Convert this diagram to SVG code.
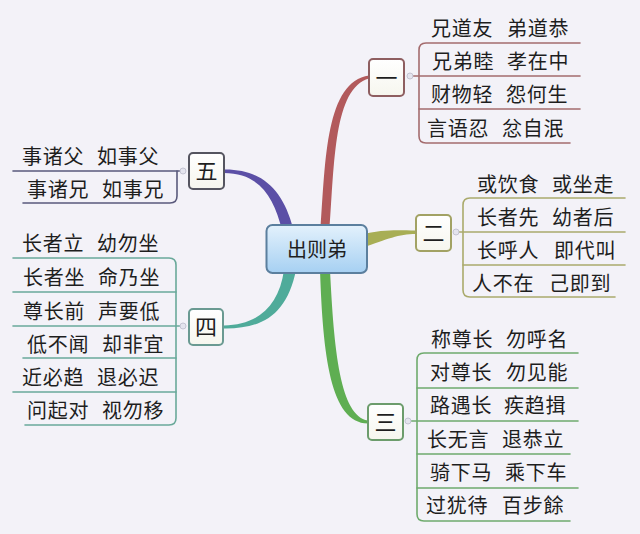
<svg xmlns="http://www.w3.org/2000/svg" width="640" height="534" viewBox="0 0 640 534">
<defs>
<linearGradient id="cg" x1="0" y1="0" x2="0" y2="1">
<stop offset="0" stop-color="#e3f1fc"/>
<stop offset="1" stop-color="#a6d0f2"/>
</linearGradient>
<linearGradient id="bg" x1="0" y1="0" x2="0" y2="1">
<stop offset="0" stop-color="#ffffff"/>
<stop offset="1" stop-color="#f6f6ee"/>
</linearGradient>
<style>
text{font-family:"Noto Sans CJK SC","Noto Sans CJK JP",sans-serif;fill:#1e1e1e}
.leaf text{font-size:20px;letter-spacing:0.8px}
.box rect{fill:url(#bg);stroke-width:2}
.box text{font-size:22px;text-anchor:middle}
.ln{fill:none;stroke-width:1.6;stroke-linecap:round}
.dot{fill:#e4e4ee;stroke:#c4c4d2;stroke-width:1}
.c1{stroke:#a46c6e}.c2{stroke:#aaaa6c}.c3{stroke:#6fab6d}.c4{stroke:#6aa99a}.c5{stroke:#5a5a7c}
</style>
</defs>
<rect width="640" height="534" fill="#f3f2f8"/>
<g id="connectors">
<path d="M320.5 230 C325.5 158 326 82 369 75.5 L369 78.5 C334 88 334.5 162 329.5 230 Z" fill="#b25a5c"/>
<path d="M224 169.5 C262 169 283 190 293 228 L282 230 C274 198 260 173 224 173 Z" fill="#5b4fa6"/>
<path d="M360 235 C384 229 396 230.5 416 230.5 L416 234 C398 234 388 239 362 248 Z" fill="#a8ae55"/>
<path d="M320 270 C323 355 330 423 368 423.5 L368 420.5 C340 416 334 350 330 270 Z" fill="#5fae52"/>
<path d="M284 270 C279 306 258 325 224 325.5 L224 328.5 C262 329 287 315 296 270 Z" fill="#4fab9a"/>
<g class="ln c1">
<path d="M580 43 H426 Q419 43 419 50 V136 Q419 143 426 143 H570"/>
<path d="M410 76 H580"/>
<path d="M419 109 H580"/>
</g>
<g class="ln c2">
<path d="M625 198 H470 Q463 198 463 205 V290 Q463 297 470 297 H615"/>
<path d="M456 232 H625"/>
<path d="M463 265 H625"/>
</g>
<g class="ln c3">
<path d="M578 353 H424 Q417 353 417 360 V514 Q417 521 424 521 H570"/>
<path d="M408 421 H578"/>
<path d="M417 388 H578"/>
<path d="M417 454 H570"/>
<path d="M417 488 H578"/>
</g>
<g class="ln c4">
<path d="M13 258 H169 Q176 258 176 265 V418 Q176 425 169 425 H25"/>
<path d="M183 326 H13"/>
<path d="M176 292 H13"/>
<path d="M176 358 H23"/>
<path d="M176 392 H13"/>
</g>
<g class="ln c5">
<path d="M183 171 H13"/>
<path d="M177 171 V196 Q177 203 170 203 H23"/>
</g>
<circle class="dot" cx="410" cy="76" r="3"/>
<circle class="dot" cx="456" cy="232" r="3"/>
<circle class="dot" cx="408" cy="421" r="3"/>
<circle class="dot" cx="183" cy="326" r="3"/>
<circle class="dot" cx="183" cy="171" r="3"/>
</g>
<g id="center">
<rect x="266.5" y="225" width="100.5" height="48" rx="6" fill="url(#cg)" stroke="#5b7f9e" stroke-width="2"/>
<text x="317" y="256.5" font-size="20" text-anchor="middle" fill="#333">出则弟</text>
</g>
<g id="n1" class="box"><rect x="369" y="59" width="35" height="37" rx="4" stroke="#8e5e60"/><text x="386.5" y="85.5">一</text></g>
<g id="n2" class="box"><rect x="416" y="215" width="35" height="36" rx="4" stroke="#a2a264"/><text x="433.5" y="241">二</text></g>
<g id="n3" class="box"><rect x="368" y="404" width="35" height="36" rx="4" stroke="#6c9c6c"/><text x="385.5" y="430">三</text></g>
<g id="n4" class="box"><rect x="189" y="309" width="34" height="36" rx="4" stroke="#6a9a92"/><text x="206" y="335">四</text></g>
<g id="n5" class="box"><rect x="189" y="153" width="35" height="36" rx="4" stroke="#555560"/><text x="206.5" y="179">五</text></g>
<g id="leaves1" class="leaf">
<g id="l1a"><text y="35.5"><tspan x="431">兄道友</tspan> <tspan x="507">弟道恭</tspan></text></g>
<g id="l1b"><text y="69"><tspan x="432">兄弟睦</tspan> <tspan x="507">孝在中</tspan></text></g>
<g id="l1c"><text y="102"><tspan x="431">财物轻</tspan> <tspan x="506">怨何生</tspan></text></g>
<g id="l1d"><text y="135.5"><tspan x="427">言语忍</tspan> <tspan x="502">忿自泯</tspan></text></g>
</g>
<g id="leaves2" class="leaf">
<g id="l2a"><text y="191.5"><tspan x="477">或饮食</tspan> <tspan x="552">或坐走</tspan></text></g>
<g id="l2b"><text y="224.5"><tspan x="477">长者先</tspan> <tspan x="552">幼者后</tspan></text></g>
<g id="l2c"><text y="257.5"><tspan x="477">长呼人</tspan> <tspan x="554">即代叫</tspan></text></g>
<g id="l2d"><text y="290.5"><tspan x="472">人不在</tspan> <tspan x="549">己即到</tspan></text></g>
</g>
<g id="leaves3" class="leaf">
<g id="l3a"><text y="346.5"><tspan x="431">称尊长</tspan> <tspan x="506">勿呼名</tspan></text></g>
<g id="l3b"><text y="380"><tspan x="430">对尊长</tspan> <tspan x="506">勿见能</tspan></text></g>
<g id="l3c"><text y="413"><tspan x="430">路遇长</tspan> <tspan x="504">疾趋揖</tspan></text></g>
<g id="l3d"><text y="446.5"><tspan x="427">长无言</tspan> <tspan x="502">退恭立</tspan></text></g>
<g id="l3e"><text y="480"><tspan x="430">骑下马</tspan> <tspan x="505">乘下车</tspan></text></g>
<g id="l3f"><text y="513"><tspan x="426">过犹待</tspan> <tspan x="502">百步餘</tspan></text></g>
</g>
<g id="leaves4" class="leaf">
<g id="l4a"><text y="251"><tspan x="22">长者立</tspan> <tspan x="97">幼勿坐</tspan></text></g>
<g id="l4b"><text y="284.5"><tspan x="23">长者坐</tspan> <tspan x="98">命乃坐</tspan></text></g>
<g id="l4c"><text y="318.5"><tspan x="23">尊长前</tspan> <tspan x="98">声要低</tspan></text></g>
<g id="l4d"><text y="351.5"><tspan x="27">低不闻</tspan> <tspan x="102">却非宜</tspan></text></g>
<g id="l4e"><text y="384.5"><tspan x="22">近必趋</tspan> <tspan x="97">退必迟</tspan></text></g>
<g id="l4f"><text y="417.5"><tspan x="27">问起对</tspan> <tspan x="102">视勿移</tspan></text></g>
</g>
<g id="leaves5" class="leaf">
<g id="l5a"><text y="163.5"><tspan x="22">事诸父</tspan> <tspan x="97">如事父</tspan></text></g>
<g id="l5b"><text y="196.5"><tspan x="27">事诸兄</tspan> <tspan x="102">如事兄</tspan></text></g>
</g>
</svg>
